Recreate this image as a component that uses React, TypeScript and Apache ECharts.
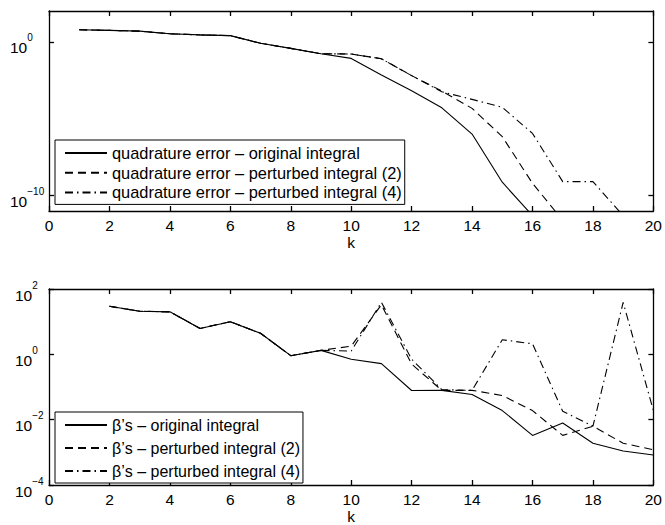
import React, { useEffect, useRef } from 'react';
import * as echarts from 'echarts';

// ---------- data (top: quadrature error) ----------
const kTopOriginal = [1, 2, 3, 4, 5, 6, 7, 8, 9, 10, 11, 12, 13, 14, 15, 16];
const topOriginal = [6.0, 5.5, 4.9, 3.3, 2.8, 2.5, 0.8, 0.37, 0.166, 8.3e-2, 6.9e-3, 6.6e-4, 5.1e-5, 1.0e-6, 7.4e-10, 5e-12];

const kTopPert2 = [1, 2, 3, 4, 5, 6, 7, 8, 9, 10, 11, 12, 13, 14, 15, 16, 17];
const topPert2 = [6.0, 5.5, 4.9, 3.3, 2.8, 2.5, 0.8, 0.37, 0.166, 1.6e-1, 7.9e-2, 6.3e-3, 6.3e-4, 4.7e-5, 6.8e-7, 6.3e-10, 2.5e-12];

const kTopPert4 = [1, 2, 3, 4, 5, 6, 7, 8, 9, 10, 11, 12, 13, 14, 15, 16, 17, 18, 19];
const topPert4 = [6.0, 5.5, 4.9, 3.3, 2.8, 2.5, 0.8, 0.37, 0.166, 1.6e-1, 7.9e-2, 6.3e-3, 5.6e-4, 1.8e-4, 5.5e-5, 1.1e-6, 8.1e-10, 8.1e-10, 5e-12];

// ---------- data (bottom: beta's) ----------
const kBottom = [2, 3, 4, 5, 6, 7, 8, 9, 10, 11, 12, 13, 14, 15, 16, 17, 18, 19, 20];
const betaOriginal = [29.5, 20.9, 20.0, 6.2, 10, 4.4, 0.91, 1.32, 0.71, 0.52, 7.8e-2, 7.9e-2, 5.9e-2, 1.9e-2, 3.3e-3, 7.9e-3, 1.9e-3, 1.1e-3, 8.3e-4];
const betaPert2 = [29.5, 20.9, 20.0, 6.2, 10, 4.4, 0.91, 1.32, 1.78, 33, 0.5, 7.9e-2, 7.9e-2, 5.5e-2, 1.9e-2, 3.3e-3, 6.3e-3, 1.9e-3, 1.2e-3];
const betaPert4 = [29.5, 20.9, 20.0, 6.2, 10, 4.4, 0.91, 1.32, 1.26, 39, 0.71, 8.3e-2, 7.9e-2, 2.8, 2.1, 1.8e-2, 6.3e-3, 39, 1.9e-2];

const topNames = [
  'quadrature error – original integral',
  'quadrature error – perturbed integral (2)',
  'quadrature error – perturbed integral (4)',
];
const bottomNames = [
  'β’s – original integral',
  'β’s – perturbed integral (2)',
  'β’s – perturbed integral (4)',
];

const xTicks = { min: 0, max: 20, interval: 2 };
const topYExp = { min: -11, max: 2, labels: [-10, 0] };
const bottomYExp = { min: -4, max: 2, interval: 2 };

const FONT = '"Liberation Sans", Arial, Helvetica, sans-serif';
const BLACK = '#000';

const styles: any[] = [
  { color: BLACK, width: 1.1, type: 'solid' },
  { color: BLACK, width: 1.1, type: [8, 5] },
  { color: BLACK, width: 1.1, type: [8, 4, 1.5, 4] },
];

function toLog(ks: number[], vs: number[]) {
  return ks.map((k, i) => [k, Math.log10(vs[i])]);
}

function expFormatter(v: number) {
  const e = Math.round(v);
  const s = e < 0 ? '\u2212' + String(-e) : String(e);
  return `{b|10}{s|${s}}`;
}

const richLabel = {
  b: { fontSize: 15.5, fontFamily: FONT, color: BLACK, lineHeight: 24, verticalAlign: 'bottom' },
  s: { fontSize: 10, fontFamily: FONT, color: BLACK, verticalAlign: 'top', padding: [1, 0, 0, 0] },
};

const axisLineStyle = { color: BLACK, width: 1.3 };

function xAxes(gridIndex: number) {
  const base = {
    gridIndex,
    type: 'value',
    min: xTicks.min,
    max: xTicks.max,
    interval: xTicks.interval,
    splitLine: { show: false },
    axisLine: { show: true, onZero: false, lineStyle: axisLineStyle },
    axisTick: { show: true, inside: true, length: 5, lineStyle: axisLineStyle },
  };
  return [
    {
      ...base,
      position: 'bottom',
      axisLabel: { show: true, margin: 6, fontSize: 15.5, fontFamily: FONT, color: BLACK },
      name: 'k',
      nameLocation: 'middle',
      nameGap: 23,
      nameTextStyle: { fontSize: 15.5, fontFamily: FONT, color: BLACK },
    },
    { ...base, position: 'top', axisLabel: { show: false } },
  ];
}

function yAxes(gridIndex: number, min: number, max: number, margin: number, interval?: number, custom?: number[]) {
  const base: any = {
    gridIndex,
    type: 'value',
    min,
    max,
    splitLine: { show: false },
    axisLine: { show: true, onZero: false, lineStyle: axisLineStyle },
    axisTick: { show: true, inside: true, length: 5, lineStyle: axisLineStyle },
  };
  if (interval !== undefined) base.interval = interval;
  if (custom) base.axisTick = { ...base.axisTick, customValues: custom };
  const label: any = {
    show: true,
    align: 'left',
    margin,
    padding: [4, 0, 0, 0],
    formatter: expFormatter,
    rich: richLabel,
  };
  if (custom) label.customValues = custom;
  return [
    { ...base, position: 'left', axisLabel: label },
    { ...base, position: 'right', axisLabel: { show: false } },
  ];
}

function legendFor(names: string[], top: number, fontSize: number, lineHeight: number, gap: number, padding: number[]) {
  return {
    data: names,
    orient: 'vertical',
    left: 55,
    top,
    itemWidth: 42,
    itemHeight: 10,
    itemGap: gap,
    padding,
    borderColor: BLACK,
    borderWidth: 1,
    backgroundColor: '#fff',
    selectedMode: false,
    itemStyle: { opacity: 0 },
    textStyle: { fontFamily: FONT, fontSize, color: BLACK, lineHeight },
  };
}

export default function App() {
  const ref = useRef<HTMLDivElement>(null);
  useEffect(() => {
    document.body.style.margin = '0';
    if (!ref.current) return;
    const chart = echarts.init(ref.current, undefined, { renderer: 'svg' });
    const topData = [toLog(kTopOriginal, topOriginal), toLog(kTopPert2, topPert2), toLog(kTopPert4, topPert4)];
    const botData = [toLog(kBottom, betaOriginal), toLog(kBottom, betaPert2), toLog(kBottom, betaPert4)];
    const series: any[] = [];
    topData.forEach((d, i) => {
      series.push({
        name: topNames[i], type: 'line', xAxisIndex: 0, yAxisIndex: 0, data: d,
        symbol: 'none', showSymbol: false, lineStyle: styles[i], itemStyle: { color: BLACK }, clip: true,
      });
    });
    botData.forEach((d, i) => {
      series.push({
        name: bottomNames[i], type: 'line', xAxisIndex: 2, yAxisIndex: 2, data: d,
        symbol: 'none', showSymbol: false, lineStyle: styles[i], itemStyle: { color: BLACK }, clip: true,
      });
    });
    chart.setOption({
      animation: false,
      backgroundColor: '#fff',
      textStyle: { fontFamily: FONT },
      grid: [
        { left: 49, top: 11, width: 607, height: 200 },
        { left: 49, top: 289, width: 607, height: 200 },
      ],
      xAxis: [...xAxes(0), ...xAxes(1)],
      yAxis: [
        ...yAxes(0, topYExp.min, topYExp.max, 39, undefined, topYExp.labels),
        ...yAxes(1, bottomYExp.min, bottomYExp.max, 34, bottomYExp.interval),
      ],
      legend: [
        legendFor(topNames, 140, 16.4, 16, 3.7, [5, 3, 4, 9]),
        legendFor(bottomNames, 412, 16, 18, 5, [4, 3, 3, 9]),
      ],
      series,
    });
    return () => chart.dispose();
  }, []);
  return <div ref={ref} style={{ width: 665, height: 525 }} />;
}
